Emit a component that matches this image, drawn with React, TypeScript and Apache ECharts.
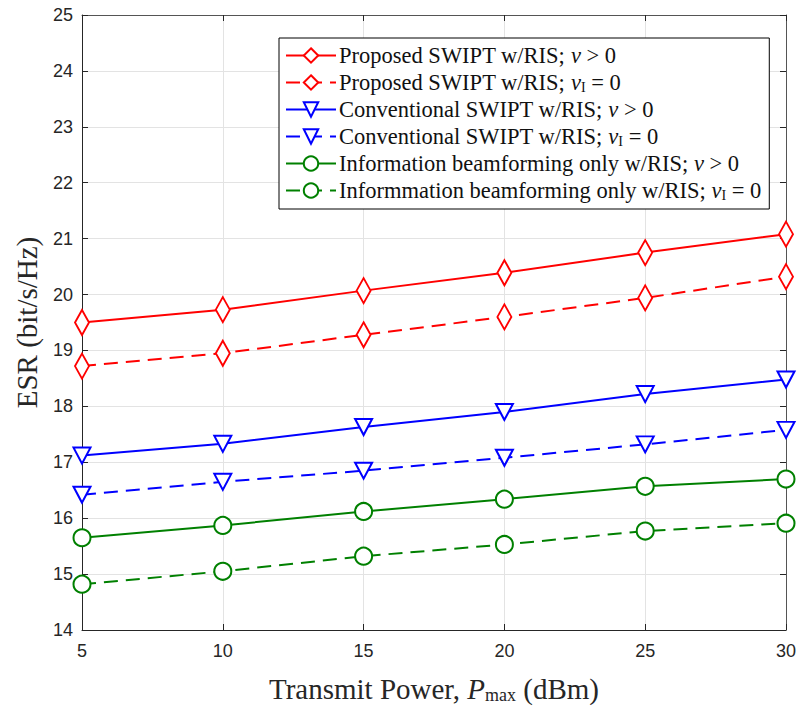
import React, { useEffect, useRef } from "react";
import * as echarts from "echarts";

const xValues = [5, 10, 15, 20, 25, 30];
const propNu = [19.5, 19.73, 20.07, 20.39, 20.75, 21.08];
const propNuI = [18.72, 18.95, 19.28, 19.6, 19.94, 20.32];
const convNu = [17.12, 17.33, 17.63, 17.9, 18.22, 18.48];
const convNuI = [16.42, 16.65, 16.85, 17.08, 17.32, 17.58];
const infoNu = [15.65, 15.87, 16.12, 16.34, 16.57, 16.7];
const infoNuI = [14.82, 15.05, 15.32, 15.53, 15.77, 15.91];

const seriesNames = [
  "Proposed SWIPT w/RIS; nu>0",
  "Proposed SWIPT w/RIS; nuI=0",
  "Conventional SWIPT w/RIS; nu>0",
  "Conventional SWIPT w/RIS; nuI=0",
  "Information beamforming only w/RIS; nu>0",
  "Informmation beamforming only w/RIS; nuI=0",
];
const legendPrefix = [
  "Proposed SWIPT w/RIS; ",
  "Proposed SWIPT w/RIS; ",
  "Conventional SWIPT w/RIS; ",
  "Conventional SWIPT w/RIS; ",
  "Information beamforming only w/RIS; ",
  "Informmation beamforming only w/RIS; ",
];

const SERIF = "'Liberation Serif', 'DejaVu Serif', serif";
const SANS = "'Liberation Sans Narrow', 'Liberation Sans', Arial, sans-serif";

export default function App() {
  const ref = useRef<HTMLDivElement>(null);
  useEffect(() => {
    if (!ref.current) return;
    const chart = echarts.init(ref.current, undefined, { renderer: "svg" });
    const mk = (
      i: number,
      data: number[],
      color: string,
      dashed: boolean,
      symbol: string,
      size: any,
      rotate = 0
    ) => ({
      name: seriesNames[i],
      type: "line",
      data: xValues.map((x, k) => [x, data[k]]),
      symbol,
      symbolSize: size,
      symbolRotate: rotate,
      showAllSymbol: true,
      lineStyle: { color, width: 2, type: dashed ? [14, 8] : "solid" },
      itemStyle: { color: "#ffffff", borderColor: color, borderWidth: 2 },
      emphasis: { disabled: true },
      z: 3,
    });
    const rich: any = {
      t: { fontFamily: SERIF, fontSize: 22.5, lineHeight: 20, color: "#111" },
      i: { fontFamily: SERIF, fontSize: 22.5, lineHeight: 20, fontStyle: "italic", color: "#111" },
      s: { fontFamily: SERIF, fontSize: 14, lineHeight: 20, color: "#111", padding: [9, 0, 0, 0] },
    };
    chart.setOption({
      animation: false,
      grid: { left: 82, right: 14, top: 15, bottom: 78, containLabel: false },
      legend: {
        orient: "vertical",
        left: 279,
        top: 38,
        padding: [6, 8, 7, 6],
        itemGap: 4,
        itemWidth: 50,
        itemHeight: 18,
        backgroundColor: "#ffffff",
        borderColor: "#000000",
        borderWidth: 1,
        borderRadius: 0,
        textStyle: { rich, fontFamily: SERIF, fontSize: 22.5, lineHeight: 20, padding: [0, 0, 0, -2] },
        formatter: (name: string) => {
          const idx = seriesNames.indexOf(name);
          const sub = idx % 2 === 1;
          return (
            "{t|" + legendPrefix[idx] + "}" +
            (sub ? "{i|ν}{s|I}{t| = 0}" : "{i|ν}{t| > 0}")
          );
        },
        data: seriesNames,
      },
      xAxis: [
        {
          type: "value",
          min: 5,
          max: 30,
          interval: 5,
          name: "{a|Transmit Power, }{i|P}{s|max}{a| (dBm)}",
          nameLocation: "middle",
          nameGap: 44,
          nameTextStyle: {
            rich: {
              a: { fontFamily: SERIF, fontSize: 29, color: "#262626" },
              i: { fontFamily: SERIF, fontSize: 29, fontStyle: "italic", color: "#262626" },
              s: { fontFamily: SERIF, fontSize: 18, color: "#262626", padding: [12, 0, 0, 0] },
            },
          },
          axisLine: { show: true, lineStyle: { color: "#262626", width: 1 } },
          axisTick: { show: true, inside: true, length: 6, lineStyle: { color: "#262626" } },
          axisLabel: { fontFamily: SANS, fontSize: 18, color: "#262626", margin: 12 },
          splitLine: { show: true, lineStyle: { color: "#e3e3e3", width: 1 } },
        },
        {
          type: "value",
          position: "top",
          min: 5,
          max: 30,
          interval: 5,
          axisLine: { show: true, onZero: false, lineStyle: { color: "#555", width: 1 } },
          axisTick: { show: true, inside: true, length: 6, lineStyle: { color: "#262626" } },
          axisLabel: { show: false },
          splitLine: { show: false },
        },
      ],
      yAxis: [
        {
          type: "value",
          min: 14,
          max: 25,
          interval: 1,
          name: "ESR (bit/s/Hz)",
          nameLocation: "middle",
          nameGap: 41,
          nameTextStyle: { fontFamily: SERIF, fontSize: 29, color: "#262626" },
          axisLine: { show: true, lineStyle: { color: "#262626", width: 1 } },
          axisTick: { show: true, inside: true, length: 6, lineStyle: { color: "#262626" } },
          axisLabel: { fontFamily: SANS, fontSize: 18, color: "#262626", margin: 9 },
          splitLine: { show: true, lineStyle: { color: "#e3e3e3", width: 1 } },
        },
        {
          type: "value",
          position: "right",
          min: 14,
          max: 25,
          interval: 1,
          axisLine: { show: true, onZero: false, lineStyle: { color: "#555", width: 1 } },
          axisTick: { show: true, inside: true, length: 6, lineStyle: { color: "#262626" } },
          axisLabel: { show: false },
          splitLine: { show: false },
        },
      ],
      series: [
        mk(0, propNu, "#ff0000", false, "diamond", [14, 25]),
        mk(1, propNuI, "#ff0000", true, "diamond", [14, 25]),
        mk(2, convNu, "#0000ff", false, "triangle", [17, 16], 180),
        mk(3, convNuI, "#0000ff", true, "triangle", [17, 16], 180),
        mk(4, infoNu, "#008000", false, "circle", 17),
        mk(5, infoNuI, "#008000", true, "circle", 17),
      ],
    });
    return () => chart.dispose();
  }, []);
  return (
    <div
      ref={ref}
      style={{ position: "absolute", left: 0, top: 0, width: 800, height: 709 }}
    />
  );
}
